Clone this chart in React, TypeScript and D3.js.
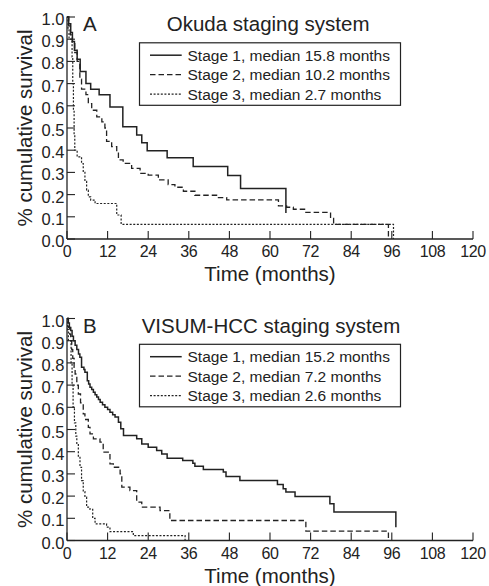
import React from 'react';
import * as d3 from 'd3';

type Pt = [number, number];

const monthTicks = [0, 12, 24, 36, 48, 60, 72, 84, 96, 108, 120];
const survivalTicks = [0, 0.1, 0.2, 0.3, 0.4, 0.5, 0.6, 0.7, 0.8, 0.9, 1.0];

const okudaLabels = [
  'Stage 1, median 15.8 months',
  'Stage 2, median 10.2 months',
  'Stage 3, median 2.7 months',
];
const visumLabels = [
  'Stage 1, median 15.2 months',
  'Stage 2, median 7.2 months',
  'Stage 3, median 2.6 months',
];

// [months, cumulative survival]
const okudaStage1: Pt[] = [
  [0, 1], [0.5, 0.97], [1.1, 0.93], [1.6, 0.89], [2.2, 0.85], [3.0, 0.81], [3.9, 0.755],
  [5.6, 0.70], [7.0, 0.675], [9.5, 0.65], [12.7, 0.595], [16.5, 0.506], [20.6, 0.468],
  [22.1, 0.434], [23.7, 0.398], [29.6, 0.366], [37.3, 0.327], [47.5, 0.286], [51.3, 0.228],
  [64.7, 0.117],
];
const okudaStage2: Pt[] = [
  [0, 1], [0.5, 0.96], [1.0, 0.92], [1.6, 0.88], [2.3, 0.84], [3.0, 0.80], [3.8, 0.72],
  [4.3, 0.675], [5.6, 0.65], [6.3, 0.61], [7.3, 0.58], [8.8, 0.55], [10.3, 0.528],
  [11.2, 0.50], [11.7, 0.44], [13.2, 0.416], [14.7, 0.393], [15.2, 0.356], [16.6, 0.341],
  [19.1, 0.318], [21.6, 0.296], [24.0, 0.288], [27.0, 0.266], [29.9, 0.245], [31.9, 0.233],
  [34.4, 0.215], [37.8, 0.197], [44.5, 0.186], [47.2, 0.176], [62.5, 0.149], [64.9, 0.143],
  [66.9, 0.134], [70.6, 0.12], [77.9, 0.093], [78.8, 0.066], [95.0, 0],
];
const okudaStage3: Pt[] = [
  [0, 1], [0.3, 0.95], [0.6, 0.90], [1.5, 0.82], [1.7, 0.70], [1.9, 0.58], [2.1, 0.47],
  [2.3, 0.40], [3.0, 0.37], [4.3, 0.34], [4.8, 0.30], [5.3, 0.26], [5.8, 0.22], [6.3, 0.19],
  [7.0, 0.175], [8.3, 0.16], [14.7, 0.108], [16.0, 0.066], [96.5, 0],
];

const visumStage1: Pt[] = [
  [0, 1], [0.4, 0.98], [0.7, 0.96], [1.1, 0.946], [1.5, 0.92], [1.9, 0.90], [2.4, 0.88],
  [2.9, 0.86], [3.4, 0.84], [3.8, 0.826], [4.3, 0.78], [5.0, 0.77], [5.3, 0.758], [6.0, 0.72],
  [6.4, 0.705], [6.8, 0.69], [7.3, 0.68], [7.8, 0.668], [8.3, 0.657], [8.8, 0.646],
  [9.3, 0.635], [9.8, 0.623], [10.5, 0.612], [11.2, 0.60], [12.0, 0.59], [12.7, 0.578],
  [13.5, 0.567], [14.2, 0.556], [15.2, 0.533], [15.9, 0.503], [16.7, 0.473], [20.6, 0.458],
  [22.1, 0.435], [24.0, 0.42], [26.5, 0.405], [28.0, 0.39], [29.6, 0.371], [34.2, 0.36],
  [37.2, 0.348], [37.8, 0.335], [40.3, 0.32], [46.2, 0.308], [47.0, 0.288], [51.1, 0.27],
  [62.2, 0.252], [63.9, 0.233], [64.7, 0.218], [67.4, 0.198], [77.7, 0.165], [78.9, 0.128],
  [97.2, 0.06],
];
const visumStage2: Pt[] = [
  [0, 1], [0.4, 0.96], [0.8, 0.93], [1.1, 0.90], [1.4, 0.86], [1.7, 0.82], [2.1, 0.78],
  [2.4, 0.75], [2.9, 0.70], [3.35, 0.66], [4.0, 0.62], [4.8, 0.57], [5.3, 0.545], [6.3, 0.51],
  [6.8, 0.48], [7.8, 0.458], [9.75, 0.443], [10.7, 0.398], [12.2, 0.39], [12.7, 0.345],
  [13.7, 0.33], [15.7, 0.30], [16.2, 0.24], [18.6, 0.225], [20.6, 0.173], [22.1, 0.15],
  [27.5, 0.135], [30.4, 0.09], [70.6, 0.042], [95.0, 0],
];
const visumStage3: Pt[] = [
  [0, 1], [0.2, 0.95], [0.4, 0.90], [1.2, 0.80], [1.5, 0.70], [1.8, 0.60], [2.2, 0.53],
  [2.6, 0.47], [2.9, 0.435], [3.35, 0.38], [3.84, 0.33], [4.3, 0.27], [4.8, 0.22],
  [5.3, 0.195], [5.8, 0.15], [6.8, 0.14], [7.6, 0.10], [8.3, 0.075], [11.7, 0.06],
  [12.7, 0.04], [19.6, 0.022], [34.9, 0],
];

const W = 489;
const H = 586;
const LEFT = 67;
const RIGHT = 473;
const PLOT_H = 222;
const INK = '#222';
const FONT = '"Liberation Sans", Arial, Helvetica, sans-serif';

const seriesStyles = [
  { dash: undefined as string | undefined, width: 1.5 },
  { dash: '5.5,3', width: 1.3 },
  { dash: '2,1.6', width: 1.2 },
];

const x = d3.scaleLinear().domain([0, 120]).range([LEFT, RIGHT]);

interface PanelProps {
  top: number;
  letter: string;
  title: string;
  series: Pt[][];
  labels: string[];
}

function Panel({ top, letter, title, series, labels }: PanelProps) {
  const y = d3.scaleLinear().domain([0, 1]).range([top + PLOT_H, top]);
  const line = d3
    .line<Pt>()
    .x((d) => x(d[0]))
    .y((d) => y(d[1]))
    .curve(d3.curveStepAfter);
  const y0 = y(0);
  return (
    <g>
      {/* axes */}
      <line x1={LEFT} x2={LEFT} y1={y(1) - 0.5} y2={y0} stroke={INK} strokeWidth={1.3} />
      <line x1={LEFT} x2={RIGHT} y1={y0} y2={y0} stroke={INK} strokeWidth={1.3} />
      {survivalTicks.map((v) => (
        <g key={'y' + v}>
          <line x1={LEFT} x2={LEFT + 8} y1={y(v)} y2={y(v)} stroke={INK} strokeWidth={1.1} />
          <text x={64.5} y={y(v) + 8} textAnchor="end" fontSize={16.5} fill={INK} fontFamily={FONT}>
            {v.toFixed(1)}
          </text>
        </g>
      ))}
      {monthTicks.map((m) => (
        <g key={'x' + m}>
          <line x1={x(m)} x2={x(m)} y1={y0} y2={y0 - 8} stroke={INK} strokeWidth={1.1} />
          <text
            x={x(m)}
            y={y0 + 18.3}
            textAnchor="middle"
            fontSize={16}
            letterSpacing={-0.4}
            fill={INK}
            fontFamily={FONT}
          >
            {m}
          </text>
        </g>
      ))}
      {/* axis titles */}
      <text
        transform={`translate(32,${top + PLOT_H / 2}) rotate(-90)`}
        textAnchor="middle"
        fontSize={20.5}
        fill={INK}
        fontFamily={FONT}
      >
        % cumulative survival
      </text>
      <text x={(LEFT + RIGHT) / 2} y={y0 + 42} textAnchor="middle" fontSize={20.5} fill={INK} fontFamily={FONT}>
        Time (months)
      </text>
      {/* panel letter and title */}
      <text x={83} y={top + 14} fontSize={20.5} fill={INK} fontFamily={FONT}>
        {letter}
      </text>
      <text x={letter === 'A' ? 166.7 : 141.7} y={top + 14} fontSize={20.5} fill={INK} fontFamily={FONT}>
        {title}
      </text>
      {/* curves */}
      {series.map((s, i) => (
        <path
          key={'s' + i}
          d={line(s) || ''}
          fill="none"
          stroke={INK}
          strokeWidth={seriesStyles[i].width}
          strokeDasharray={seriesStyles[i].dash}
        />
      ))}
      {/* legend */}
      <rect x={139.5} y={top + 25.8} width={261} height={62.5} fill="white" stroke={INK} strokeWidth={1.2} />
      {labels.map((lab, i) => {
        const base = top + 43.5 + i * 19.5;
        return (
          <g key={'l' + i}>
            <line
              x1={150}
              x2={181.7}
              y1={base - 5.3}
              y2={base - 5.3}
              stroke={INK}
              strokeWidth={seriesStyles[i].width}
              strokeDasharray={seriesStyles[i].dash}
            />
            <text x={187.5} y={base} fontSize={15.5} fill={INK} fontFamily={FONT}>
              {lab}
            </text>
          </g>
        );
      })}
    </g>
  );
}

export default function App() {
  return (
    <svg
      width={W}
      height={H}
      viewBox={`0 0 ${W} ${H}`}
      style={{ position: 'absolute', left: 0, top: 0, background: 'white' }}
    >
      <rect x={0} y={0} width={W} height={H} fill="white" />
      <Panel
        top={17}
        letter="A"
        title="Okuda staging system"
        series={[okudaStage1, okudaStage2, okudaStage3]}
        labels={okudaLabels}
      />
      <Panel
        top={318.5}
        letter="B"
        title="VISUM-HCC staging system"
        series={[visumStage1, visumStage2, visumStage3]}
        labels={visumLabels}
      />
    </svg>
  );
}
